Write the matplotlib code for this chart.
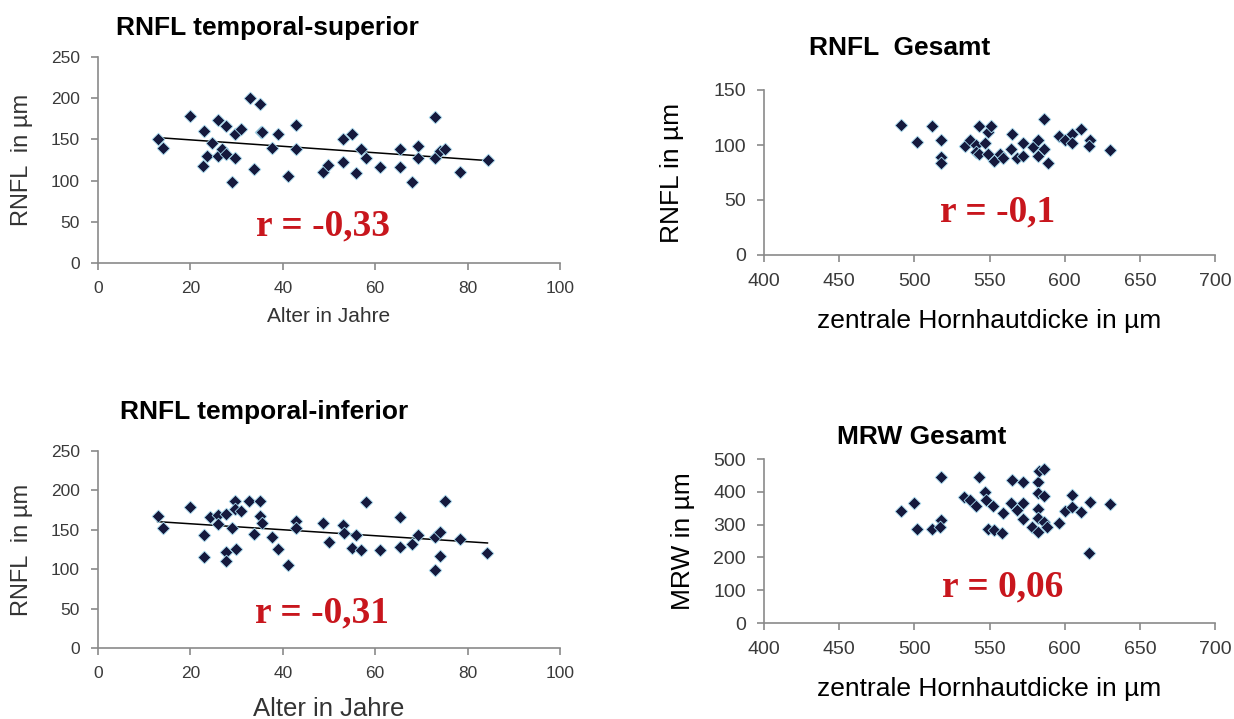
import matplotlib
matplotlib.use("Agg")
import matplotlib.pyplot as plt
import numpy as np

plt.rcParams['font.family'] = ['Liberation Sans', 'DejaVu Sans']

# RNFL temporal-superior vs age
age_sup = [12.9, 14.0, 20.0, 22.9, 22.7, 23.5, 24.6, 26.0, 26.0, 26.9, 27.8, 27.6, 29.6, 28.9,
           29.6, 30.9, 32.8, 35.0, 33.8, 35.2, 35.6, 37.6, 39.0, 41.1, 42.9, 42.9, 48.7, 49.8,
           53.1, 54.9, 53.1, 55.8, 57.0, 58.1, 61.0, 65.3, 65.3, 67.9, 69.2, 69.2, 73.0, 73.0,
           74.1, 75.2, 78.3, 84.4]
rnfl_sup = [150, 140, 179, 160, 118, 130, 146, 174, 130, 138, 166, 132, 157, 98,
            128, 163, 200, 193, 114, 159, 159, 140, 156, 105, 168, 138, 111, 119,
            151, 157, 123, 109, 138, 128, 116, 138, 116, 98, 142, 128, 177, 128,
            136, 138, 111, 125]

# RNFL temporal-inferior vs age
age_inf = [12.9, 14.0, 20.0, 22.9, 22.9, 24.3, 26.0, 26.0, 27.6, 27.8, 27.8, 28.9, 29.6, 29.6,
           29.8, 30.9, 32.7, 33.8, 35.0, 35.0, 35.6, 37.6, 39.0, 41.1, 42.9, 42.9, 48.8, 49.9,
           53.1, 53.2, 54.9, 55.9, 57.0, 58.0, 61.0, 65.3, 65.3, 67.9, 69.2, 73.0, 73.0, 74.0,
           74.1, 75.2, 78.3, 84.3]
rnfl_inf = [167, 152, 179, 143, 115, 166, 169, 157, 170, 122, 111, 152, 187, 177,
            126, 174, 187, 145, 187, 168, 158, 141, 126, 105, 161, 152, 159, 134,
            156, 146, 127, 144, 125, 185, 125, 166, 128, 132, 144, 141, 99, 117,
            147, 187, 138, 120]

# RNFL gesamt vs central corneal thickness
cct_rnfl = [491, 502, 512, 518, 518, 518, 534, 537, 541, 541, 543, 543, 547, 549, 551, 549,
            553, 557, 559, 565, 564, 568, 572, 572, 579, 582, 582, 586, 586, 589, 596, 600,
            605, 605, 611, 617, 616, 630]
rnfl_tot = [118, 103, 117, 105, 89, 84, 99, 105, 100, 94, 117, 92, 102, 112, 117, 92,
            85, 92, 88, 110, 96, 88, 102, 90, 98, 105, 90, 124, 96, 84, 108, 105,
            110, 102, 115, 105, 99, 95]

# MRW gesamt vs central corneal thickness
cct_mrw = [491, 500, 502, 512, 518, 518, 517, 533, 537, 541, 543, 547, 548, 549, 552, 553,
           558, 559, 565, 564, 568, 572, 572, 572, 578, 582, 582, 582, 582, 582, 583, 586,
           586, 586, 588, 596, 600, 605, 605, 611, 617, 616, 630]
mrw_tot = [342, 367, 286, 286, 445, 314, 294, 383, 375, 357, 445, 398, 375, 286, 357, 284,
           273, 335, 435, 367, 343, 430, 367, 316, 294, 430, 396, 347, 319, 276, 462, 469,
           388, 309, 292, 306, 342, 391, 353, 337, 370, 212, 363]

titles = ['RNFL temporal-superior', 'RNFL  Gesamt', 'RNFL temporal-inferior', 'MRW Gesamt']
r_texts = ['r = -0,33', 'r = -0,1', 'r = -0,31', 'r = 0,06']

fig = plt.figure(figsize=(12.34, 7.19), dpi=100)
W, H = 1234, 719


def make_ax(l, t, r, b):
    return fig.add_axes([l / W, 1 - b / H, (r - l) / W, (b - t) / H])


def style(ax, tick_size):
    for s in ['top', 'right']:
        ax.spines[s].set_visible(False)
    for s in ['left', 'bottom']:
        ax.spines[s].set_color('#8a8a8a')
        ax.spines[s].set_linewidth(1.2)
    ax.tick_params(direction='out', length=5, width=1.2, color='#8a8a8a',
                   labelsize=tick_size, labelcolor='#3a3a3a', pad=8)


def scatter(ax, x, y):
    ax.scatter(x, y, marker='D', s=42, color='#15193d', edgecolors='#a8dcf0',
               linewidths=0.6, zorder=3)


def trend(ax, x, y):
    k, d = np.polyfit(x, y, 1)
    xs = np.array([min(x), max(x)])
    ax.plot(xs, k * xs + d, color='black', lw=1.1, zorder=2)


def r_label(ax, x, y, s):
    ax.text(x, y, s, transform=ax.transAxes, ha='center', va='center',
            fontsize=27, fontweight='bold', color='#c8161d', family='Liberation Serif')


# top left
ax1 = make_ax(98, 57, 560, 263)
scatter(ax1, age_sup, rnfl_sup)
trend(ax1, age_sup, rnfl_sup)
ax1.set_xlim(0, 100)
ax1.set_ylim(0, 250)
ax1.set_xticks(range(0, 101, 20))
ax1.set_yticks(range(0, 251, 50))
style(ax1, 12.5)
ax1.set_xlabel('Alter in Jahre', fontsize=15, color='#333333')
ax1.set_ylabel('RNFL  in µm', fontsize=17, color='#333333')
ax1.xaxis.set_label_coords(0.5, -0.215)
ax1.yaxis.set_label_coords(-0.14, 0.5)
r_label(ax1, 0.487, 0.18, r_texts[0])

# top right
ax2 = make_ax(764, 90, 1215, 255)
scatter(ax2, cct_rnfl, rnfl_tot)
ax2.set_xlim(400, 700)
ax2.set_ylim(0, 150)
ax2.set_xticks(range(400, 701, 50))
ax2.set_yticks(range(0, 151, 50))
style(ax2, 14)
ax2.set_xlabel('zentrale Hornhautdicke in µm', fontsize=19)
ax2.set_ylabel('RNFL in µm', fontsize=19)
ax2.xaxis.set_label_coords(0.5, -0.33)
ax2.yaxis.set_label_coords(-0.177, 0.5)
r_label(ax2, 0.519, 0.26, r_texts[1])

# bottom left
ax3 = make_ax(98, 451, 560, 648)
scatter(ax3, age_inf, rnfl_inf)
trend(ax3, age_inf, rnfl_inf)
ax3.set_xlim(0, 100)
ax3.set_ylim(0, 250)
ax3.set_xticks(range(0, 101, 20))
ax3.set_yticks(range(0, 251, 50))
style(ax3, 12.5)
ax3.set_xlabel('Alter in Jahre', fontsize=18.5, color='#333333')
ax3.set_ylabel('RNFL  in µm', fontsize=17, color='#333333')
ax3.xaxis.set_label_coords(0.5, -0.25)
ax3.yaxis.set_label_coords(-0.14, 0.5)
r_label(ax3, 0.485, 0.18, r_texts[2])

# bottom right
ax4 = make_ax(764, 459, 1215, 623)
scatter(ax4, cct_mrw, mrw_tot)
ax4.set_xlim(400, 700)
ax4.set_ylim(0, 500)
ax4.set_xticks(range(400, 701, 50))
ax4.set_yticks(range(0, 501, 100))
style(ax4, 14)
ax4.set_xlabel('zentrale Hornhautdicke in µm', fontsize=19)
ax4.set_ylabel('MRW in µm', fontsize=19)
ax4.xaxis.set_label_coords(0.5, -0.33)
ax4.yaxis.set_label_coords(-0.153, 0.5)
r_label(ax4, 0.53, 0.22, r_texts[3])

# panel titles
for (x, y), t in zip([(267, 28), (900, 48), (264, 412), (922, 437)], titles):
    fig.text(x / W, 1 - y / H, t, ha='center', va='center', fontsize=19, fontweight='bold')

fig.savefig('out.png', dpi=100)
